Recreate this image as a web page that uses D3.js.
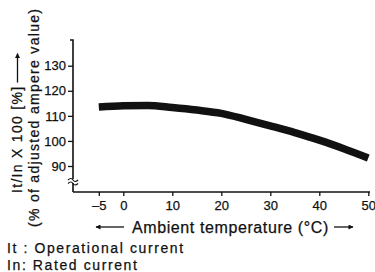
<!DOCTYPE html>
<html>
<head>
<meta charset="utf-8">
<script src="https://cdn.jsdelivr.net/npm/d3@7"></script>
<style>
  body { margin: 0; background: #fff; }
  svg text { font-family: "Liberation Sans", Arial, sans-serif; fill: #111; stroke: #111; stroke-width: 0.25px; }
</style>
</head>
<body>
<div id="chart"></div>
<script>
// ambient temperature (deg C) vs It/In x 100 (%)
var temps = [-5, 0, 5, 10, 15, 20, 25, 30, 35, 40, 45, 50];
var ratio = [113.5, 114, 114.1, 113.3, 112.3, 111, 108.6, 106, 103.3, 100.3, 96.9, 93.2];
var xTicks = [-5, 0, 10, 20, 30, 40, 50];
var yTicks = [90, 100, 110, 120, 130];

var W = 375, H = 272;
var svg = d3.select('#chart').append('svg')
  .attr('width', W).attr('height', H);

var x = d3.scaleLinear().domain([-5, 50]).range([98.8, 368.3]);
var y = d3.scaleLinear().domain([90, 130]).range([166, 65.7]);

var axisX = 73, axisY = 192;

// arrowhead
svg.append('defs').append('marker')
  .attr('id', 'ah')
  .attr('viewBox', '0 0 10 10')
  .attr('refX', 9).attr('refY', 5)
  .attr('markerWidth', 8).attr('markerHeight', 5)
  .attr('markerUnits', 'userSpaceOnUse')
  .attr('orient', 'auto')
  .append('path').attr('d', 'M0,0L10,5L0,10Z').attr('fill', '#111');

// y axis
var yAxis = d3.axisLeft(y).tickValues(yTicks).tickSize(5).tickPadding(2);
var gy = svg.append('g').attr('transform', 'translate(' + axisX + ',0)').call(yAxis);
gy.select('.domain').remove();
gy.selectAll('text').style('font-size', '13px');
gy.selectAll('line').attr('stroke', '#111').attr('stroke-width', 1.3);

svg.append('path')
  .attr('d', 'M' + (axisX - 3) + ',40H' + axisX + 'V' + axisY)
  .attr('fill', 'none').attr('stroke', '#111').attr('stroke-width', 1.6);

// x axis
var xAxis = d3.axisBottom(x).tickValues(xTicks).tickSize(4).tickPadding(5)
  .tickFormat(function(d){ return d < 0 ? '\u2013' + Math.abs(d) : d; });
var gx = svg.append('g').attr('transform', 'translate(0,' + axisY + ')').call(xAxis);
gx.select('.domain').remove();
gx.selectAll('text').style('font-size', '13px');
gx.selectAll('line').attr('stroke', '#111').attr('stroke-width', 1.3);

svg.append('line')
  .attr('x1', axisX).attr('x2', 370)
  .attr('y1', axisY).attr('y2', axisY)
  .attr('stroke', '#111').attr('stroke-width', 1.6);

// axis break
svg.append('rect').attr('x', axisX - 2).attr('y', 179).attr('width', 4).attr('height', 4).attr('fill', '#fff');
svg.append('path')
  .attr('d', 'M' + (axisX - 5) + ',180 q3,-3 5,0 t5,0 M' + (axisX - 5) + ',183.5 q3,-3 5,0 t5,0')
  .attr('fill', 'none').attr('stroke', '#111').attr('stroke-width', 1.2);

// curve
var line = d3.line()
  .x(function(d, i){ return x(temps[i]); })
  .y(function(d){ return y(d); })
  .curve(d3.curveMonotoneX);

svg.append('path')
  .datum(ratio)
  .attr('d', line)
  .attr('fill', 'none')
  .attr('stroke', '#111')
  .attr('stroke-width', 7.5);

// y labels (rotated)
var yl1 = svg.append('text')
  .attr('transform', 'translate(22,193) rotate(-90)')
  .style('font-size', '14px')
  .style('letter-spacing', '1.3px')
  .text('It/In X 100 [%]');
var len1 = yl1.node().getComputedTextLength();
svg.append('line')
  .attr('x1', 17.5).attr('x2', 17.5)
  .attr('y1', 193 - len1 - 3).attr('y2', 193 - len1 - 32)
  .attr('stroke', '#111').attr('stroke-width', 1.3)
  .attr('marker-end', 'url(#ah)');

svg.append('text')
  .attr('transform', 'translate(39,227) rotate(-90)')
  .style('font-size', '14px')
  .style('letter-spacing', '1.3px')
  .text('(% of adjusted ampere value)');

// x label
svg.append('text')
  .attr('x', 132).attr('y', 233)
  .style('font-size', '16px')
  .style('letter-spacing', '0.6px')
  .text('Ambient temperature (\u00b0C)');
svg.append('line')
  .attr('x1', 124).attr('x2', 96).attr('y1', 227).attr('y2', 227)
  .attr('stroke', '#111').attr('stroke-width', 1.3).attr('marker-end', 'url(#ah)');
svg.append('line')
  .attr('x1', 334).attr('x2', 353).attr('y1', 227).attr('y2', 227)
  .attr('stroke', '#111').attr('stroke-width', 1.3).attr('marker-end', 'url(#ah)');

// notes
svg.append('text').attr('x', 7).attr('y', 253).style('font-size', '14px')
  .style('letter-spacing', '1.6px').text('It : Operational current');
svg.append('text').attr('x', 7).attr('y', 270).style('font-size', '14px')
  .style('letter-spacing', '1.6px').text('In: Rated current');
</script>
</body>
</html>
